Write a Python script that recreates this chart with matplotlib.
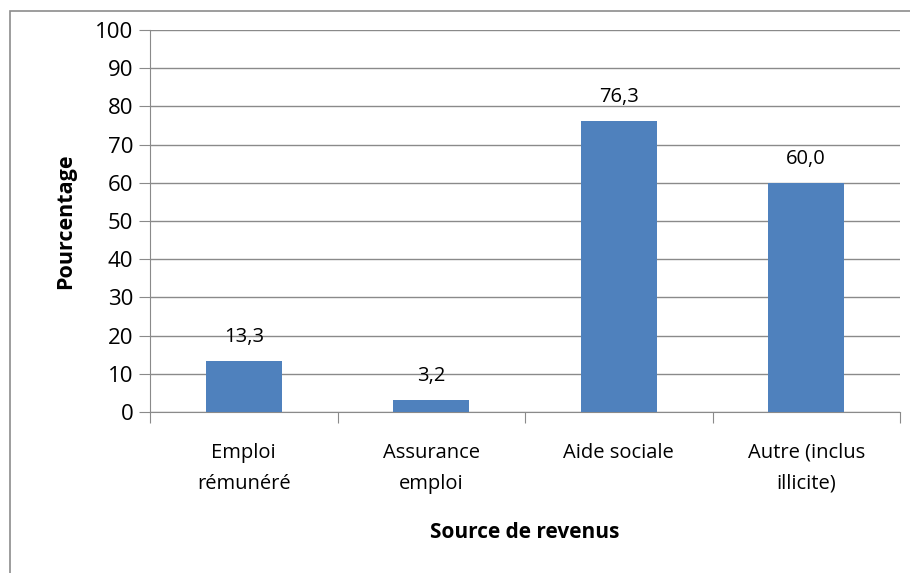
import matplotlib.pyplot as plt
from matplotlib.patches import Rectangle

categories = ['Emploi\nrémunéré', 'Assurance\nemploi', 'Aide sociale', 'Autre (inclus\nillicite)']
values = [13.3, 3.2, 76.3, 60.0]
value_labels = ['13,3', '3,2', '76,3', '60,0']
yticks = list(range(0, 101, 10))

plt.rcParams['font.family'] = ['Open Sans', 'DejaVu Sans']

W, H = 910, 573
fig = plt.figure(figsize=(W / 100, H / 100), dpi=100)
ax = fig.add_axes([150 / W, 1 - 412 / H, 750 / W, 382 / H])

# outer chart border (clipped at right / bottom like the original)
fig.patches.append(Rectangle((10 / W, -0.05), 1.0, 1 - 11 / H + 0.05,
                             transform=fig.transFigure, fill=False,
                             ec='#8c8c8c', lw=1.2))

xs = list(range(len(categories)))
ax.bar(xs, values, width=0.405, color='#4f81bd', zorder=3)

for x, v, lab in zip(xs, values, value_labels):
    ax.annotate(lab, xy=(x, v), xytext=(0, 10), textcoords='offset points',
                ha='center', va='bottom', fontsize=14.5)

ax.set_xlim(-0.5, len(categories) - 0.5)
ax.set_ylim(0, 100)
ax.set_yticks(yticks)
ax.yaxis.grid(True, color='#8a8a8a', lw=1.0)
ax.set_axisbelow(True)

ax.set_xticks([x + 0.5 for x in [-1] + xs])
ax.set_xticklabels([])
ax.set_xticks(xs, minor=True)
ax.set_xticklabels(categories, minor=True, fontsize=14.5, linespacing=1.75)
ax.tick_params(axis='x', which='minor', length=0, pad=22)
ax.tick_params(axis='x', which='major', length=8, color='#8a8a8a', direction='out')
ax.tick_params(axis='y', length=8, color='#8a8a8a', labelsize=16, pad=4)

for s in ['top', 'right']:
    ax.spines[s].set_visible(False)
for s in ['left', 'bottom']:
    ax.spines[s].set_color('#8a8a8a')

ax.set_ylabel('Pourcentage', fontsize=15.5, fontweight='bold', labelpad=14)
ax.set_xlabel('Source de revenus', fontsize=15, fontweight='bold', labelpad=20)

fig.savefig('out.png', dpi=100)
